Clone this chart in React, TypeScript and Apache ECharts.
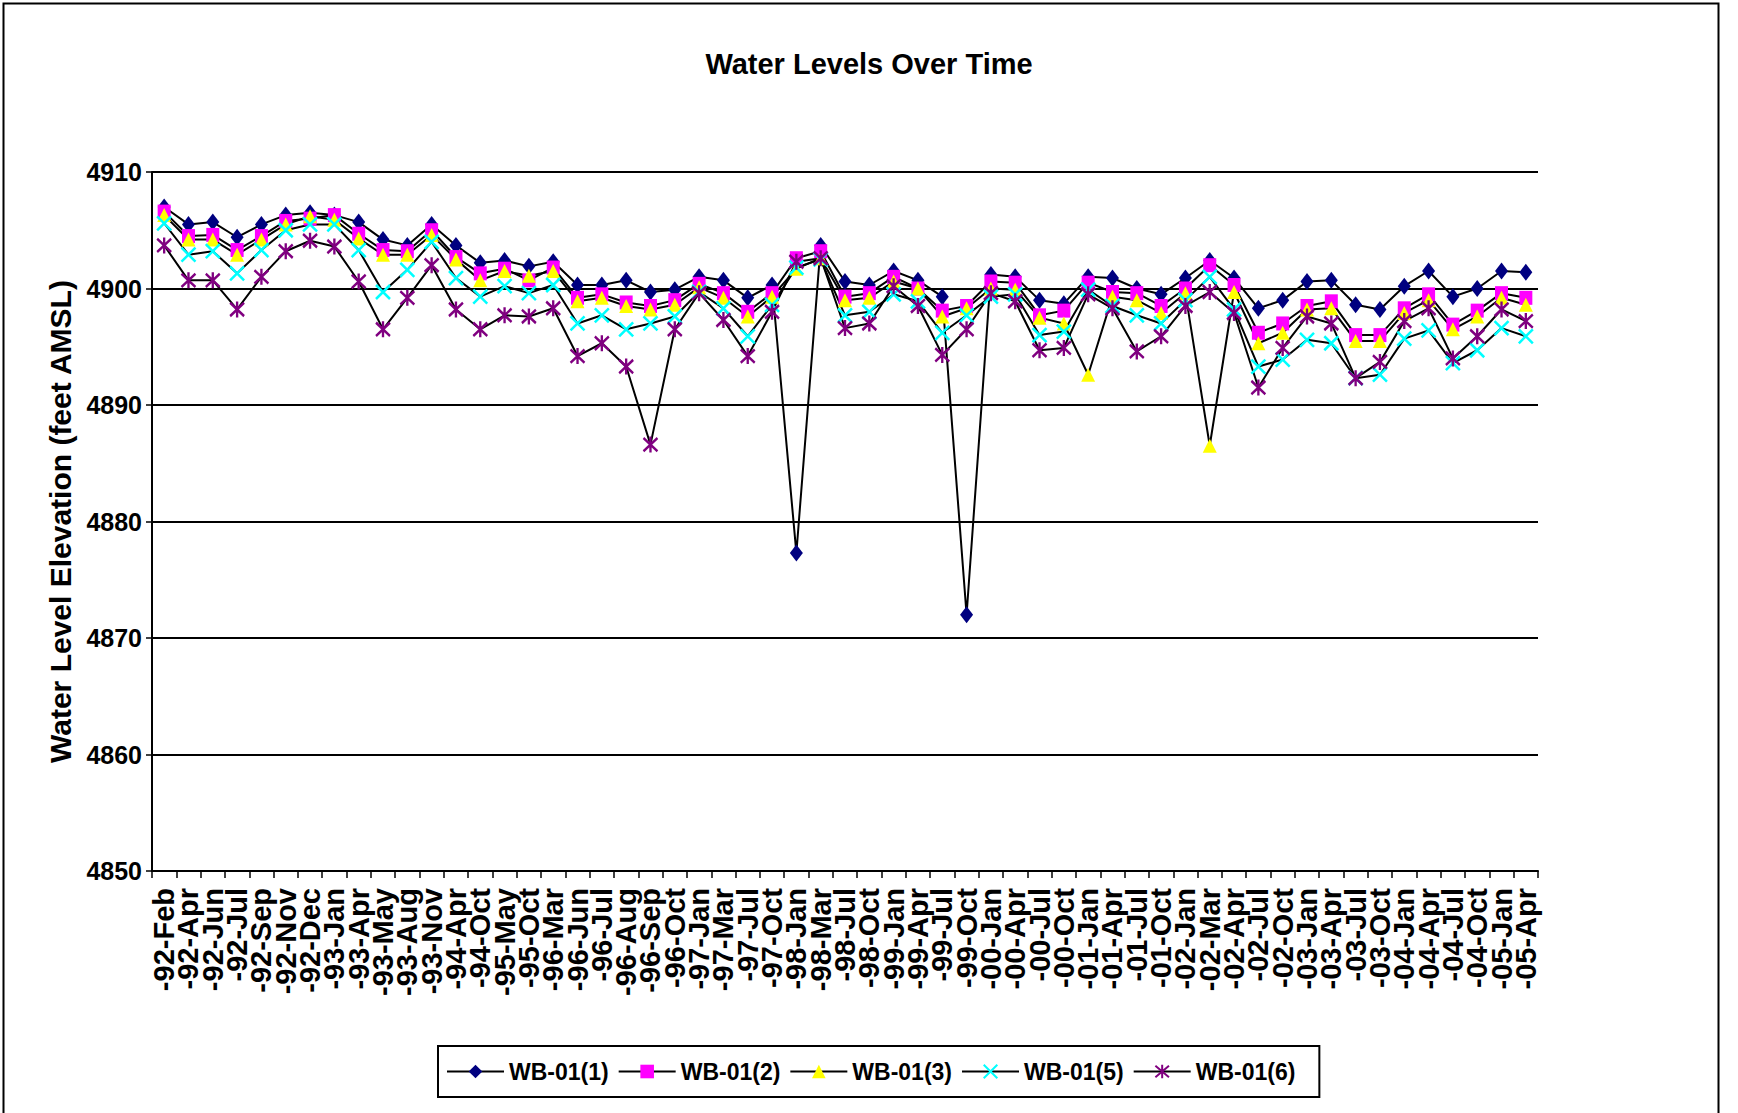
import React, { useEffect, useRef } from "react";
import * as echarts from "echarts";

const categories = [
  "-92-Feb", "-92-Apr", "-92-Jun", "-92-Jul", "-92-Sep", "-92-Nov", "-92-Dec",
  "-93-Jan", "-93-Apr", "-93-May", "-93-Aug", "-93-Nov", "-94-Apr", "-94-Oct",
  "-95-May", "-95-Oct", "-96-Mar", "-96-Jun", "-96-Jul", "-96-Aug", "-96-Sep",
  "-96-Oct", "-97-Jan", "-97-Mar", "-97-Jul", "-97-Oct", "-98-Jan", "-98-Mar",
  "-98-Jul", "-98-Oct", "-99-Jan", "-99-Apr", "-99-Jul", "-99-Oct", "-00-Jan",
  "-00-Apr", "-00-Jul", "-00-Oct", "-01-Jan", "-01-Apr", "-01-Jul", "-01-Oct",
  "-02-Jan", "-02-Mar", "-02-Apr", "-02-Jul", "-02-Oct", "-03-Jan", "-03-Apr",
  "-03-Jul", "-03-Oct", "-04-Jan", "-04-Apr", "-04-Jul", "-04-Oct", "-05-Jan",
  "-05-Apr",
];

const wb1 = [
  4907.0, 4905.5, 4905.7, 4904.4, 4905.5, 4906.3, 4906.5, 4906.3, 4905.7, 4904.2,
  4903.7, 4905.5, 4903.7, 4902.2, 4902.4, 4901.9, 4902.3, 4900.3, 4900.3, 4900.7,
  4899.7, 4899.9, 4901.0, 4900.7, 4899.2, 4900.3, 4877.3, 4903.7, 4900.6, 4900.3,
  4901.5, 4900.7, 4899.3, 4872.0, 4901.2, 4901.0, 4899.0, 4898.7, 4901.0, 4900.9,
  4900.0, 4899.5, 4900.9, 4902.4, 4900.9, 4898.3, 4899.0, 4900.6, 4900.7, 4898.6,
  4898.2, 4900.2, 4901.5, 4899.3, 4900.0, 4901.5, 4901.4,
];
const wb2 = [
  4906.6, 4904.5, 4904.6, 4903.3, 4904.5, 4905.8, 4906.0, 4906.3, 4904.7, 4903.3,
  4903.2, 4905.0, 4902.7, 4901.3, 4901.7, 4900.7, 4901.8, 4899.2, 4899.5, 4898.8,
  4898.5, 4899.0, 4900.4, 4899.6, 4898.0, 4899.6, 4902.6, 4903.2, 4899.3, 4899.6,
  4901.0, 4900.0, 4898.1, 4898.5, 4900.6, 4900.5, 4897.7, 4898.1, 4900.5, 4899.7,
  4899.6, 4898.5, 4900.0, 4902.0, 4900.3, 4896.2, 4897.0, 4898.5, 4898.9, 4896.0,
  4896.0, 4898.3, 4899.5, 4896.9, 4898.1, 4899.6, 4899.2,
];
const wb3 = [
  4906.3, 4904.2, 4904.2, 4902.9, 4904.2, 4905.5, 4906.2, 4905.9, 4904.3, 4902.9,
  4902.9, 4904.6, 4902.5, 4900.7, 4901.5, 4901.1, 4901.5, 4898.9, 4899.2, 4898.5,
  4898.2, 4898.6, 4900.1, 4899.2, 4897.6, 4899.3, 4901.7, 4902.6, 4899.0, 4899.2,
  4900.6, 4900.0, 4897.6, 4898.3, 4900.0, 4899.9, 4897.5, 4897.0, 4892.6, 4899.3,
  4899.0, 4897.9, 4899.6, 4886.5, 4899.7, 4895.3, 4896.2, 4898.2, 4898.3, 4895.5,
  4895.5, 4897.9, 4899.0, 4896.5, 4897.6, 4899.2, 4898.6,
];
const wb5 = [
  4905.6, 4902.9, 4903.2, 4901.3, 4903.3, 4905.0, 4905.5, 4905.5, 4903.3, 4899.7,
  4901.6, 4904.0, 4900.9, 4899.3, 4900.2, 4899.6, 4900.3, 4897.0, 4897.7, 4896.5,
  4897.0, 4897.6, 4899.7, 4898.3, 4895.9, 4898.6, 4901.8, 4902.5, 4897.7, 4898.0,
  4899.5, 4898.9, 4896.2, 4897.7, 4899.3, 4899.5, 4896.0, 4896.3, 4899.9, 4898.5,
  4897.7, 4897.0, 4899.0, 4901.0, 4898.2, 4893.3, 4893.9, 4895.6, 4895.3, 4892.3,
  4892.6, 4895.7, 4896.4, 4893.6, 4894.7, 4896.6, 4895.9,
];
const wb6 = [
  4903.7, 4900.7, 4900.7, 4898.2, 4901.0, 4903.2, 4904.1, 4903.6, 4900.6, 4896.5,
  4899.2, 4902.0, 4898.2, 4896.5, 4897.7, 4897.6, 4898.3, 4894.2, 4895.3, 4893.3,
  4886.6, 4896.5, 4899.6, 4897.3, 4894.2, 4898.0, 4902.3, 4902.6, 4896.6, 4897.0,
  4900.2, 4898.5, 4894.3, 4896.5, 4899.6, 4898.9, 4894.7, 4894.9, 4899.5, 4898.3,
  4894.6, 4895.9, 4898.5, 4899.7, 4897.9, 4891.5, 4894.9, 4897.6, 4897.0, 4892.3,
  4893.7, 4897.2, 4898.3, 4894.0, 4895.9, 4898.2, 4897.2,
];

const seriesNames = ["WB-01(1)", "WB-01(2)", "WB-01(3)", "WB-01(5)", "WB-01(6)"];
const yTicks = { min: 4850, max: 4910, interval: 10 };

const FONT = '"Liberation Sans", Arial, sans-serif';

export default function App() {
  const ref = useRef<HTMLDivElement>(null);
  useEffect(() => {
    document.body.style.margin = "0";
    const chart = echarts.init(ref.current!, null, { renderer: "svg" });
    const markerDefs = [
      { symbol: "diamond", size: [13, 17], color: "#000080", border: 0 },
      { symbol: "rect", size: [13, 14], color: "#FF00FF", border: 0 },
      { symbol: "triangle", size: [14, 14], color: "#FFFF00", border: 0 },
      { symbol: "path://M0,0L10,10M10,0L0,10", size: [14, 14], color: "#00FFFF", border: 2.5 },
      { symbol: "path://M0,0L10,10M10,0L0,10M5,-1L5,11", size: [14, 16], color: "#800080", border: 2.5 },
    ];
    const dataSets = [wb1, wb2, wb3, wb5, wb6];
    const series = dataSets.map((d, i) => ({
      name: seriesNames[i],
      type: "line",
      data: d,
      symbol: markerDefs[i].symbol,
      symbolSize: markerDefs[i].size,
      showAllSymbol: true,
      lineStyle: { color: "#000000", width: 2 },
      itemStyle: {
        color: markerDefs[i].color,
        borderColor: markerDefs[i].color,
        borderWidth: markerDefs[i].border,
      },
      emphasis: { disabled: true },
    }));
    chart.setOption({
      animation: false,
      backgroundColor: "#ffffff",
      title: {
        text: "Water Levels Over Time",
        left: "center",
        top: 49,
        padding: 0,
        textStyle: { fontFamily: FONT, fontWeight: "bold", fontSize: 29, color: "#000" },
      },
      graphic: [
        {
          type: "rect",
          left: 1,
          top: 1,
          shape: { width: 1715, height: 1140 },
          style: { fill: "none", stroke: "#000", lineWidth: 2 },
          silent: true,
        },
      ],
      legend: {
        data: seriesNames,
        left: 438,
        top: 1046,
        orient: "horizontal",
        itemWidth: 57,
        itemHeight: 17,
        itemGap: 9,
        padding: [14, 24, 14, 8],
        borderColor: "#000",
        borderWidth: 2,
        textStyle: { fontFamily: FONT, fontWeight: "bold", fontSize: 23, color: "#000" },
      },
      grid: { left: 152, right: 200, top: 172, bottom: 242, containLabel: false },
      xAxis: {
        type: "category",
        data: categories,
        boundaryGap: true,
        axisLine: { lineStyle: { color: "#000", width: 2 } },
        axisTick: { show: true, length: 7, interval: 0, lineStyle: { color: "#000", width: 1.5 } },
        axisLabel: {
          interval: 0,
          rotate: 90,
          margin: 17,
          fontFamily: FONT,
          fontWeight: "bold",
          fontSize: 29,
          color: "#000",
        },
        splitLine: { show: false },
      },
      yAxis: {
        type: "value",
        min: yTicks.min,
        max: yTicks.max,
        interval: yTicks.interval,
        name: "Water Level Elevation (feet AMSL)",
        nameLocation: "middle",
        nameGap: 72,
        nameRotate: 90,
        nameTextStyle: { fontFamily: FONT, fontWeight: "bold", fontSize: 30, color: "#000" },
        axisLine: { show: true, lineStyle: { color: "#000", width: 2 } },
        axisTick: { show: true, length: 6, lineStyle: { color: "#000", width: 1.5 } },
        axisLabel: {
          margin: 10,
          fontFamily: FONT,
          fontWeight: "bold",
          fontSize: 25,
          color: "#000",
          formatter: (v: number) => String(v),
        },
        splitLine: { show: true, lineStyle: { color: "#000", width: 2 } },
      },
      series,
    });
    return () => chart.dispose();
  }, []);
  return (
    <div
      ref={ref}
      style={{ position: "absolute", left: 0, top: 0, width: 1738, height: 1113 }}
    />
  );
}
